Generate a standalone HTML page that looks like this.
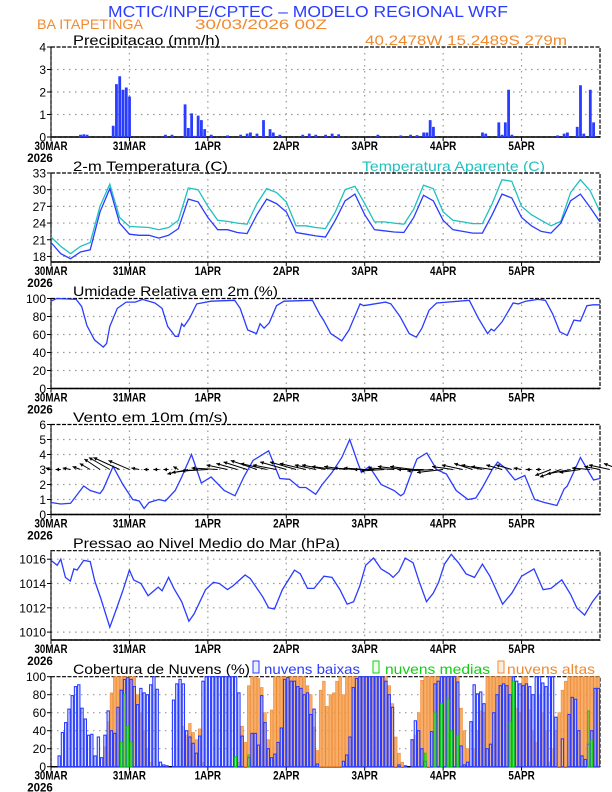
<!DOCTYPE html>
<html><head><meta charset="utf-8"><style>
html,body{margin:0;padding:0;background:#fff}
svg{display:block}
text{font-family:"Liberation Sans",sans-serif}
</style></head><body>
<svg id="chart" width="612" height="792" viewBox="0 0 612 792" xmlns="http://www.w3.org/2000/svg">
<text x="108" y="17" font-size="16" fill="#2a3cff" textLength="400" lengthAdjust="spacingAndGlyphs">MCTIC/INPE/CPTEC – MODELO REGIONAL WRF</text>
<text x="37" y="29" font-size="14" fill="#f08a30" textLength="106" lengthAdjust="spacingAndGlyphs">BA ITAPETINGA</text>
<text x="195" y="29" font-size="14" fill="#f08a30" textLength="132" lengthAdjust="spacingAndGlyphs">30/03/2026 00Z</text>
<text x="365" y="45" font-size="14" fill="#f08a30" textLength="202" lengthAdjust="spacingAndGlyphs">40.2478W  15.2489S  279m</text>
<text x="73" y="45" font-size="14" fill="#000" textLength="147" lengthAdjust="spacingAndGlyphs">Precipitacao (mm/h)</text>
<text x="73" y="171" font-size="14" fill="#000" textLength="155" lengthAdjust="spacingAndGlyphs">2-m Temperatura (C)</text>
<text x="362" y="171" font-size="14" fill="#20c0c0" textLength="183" lengthAdjust="spacingAndGlyphs">Temperatura Aparente (C)</text>
<text x="73" y="296" font-size="14" fill="#000" textLength="205" lengthAdjust="spacingAndGlyphs">Umidade Relativa em 2m (%)</text>
<text x="73" y="422" font-size="14" fill="#000" textLength="155" lengthAdjust="spacingAndGlyphs">Vento em 10m (m/s)</text>
<text x="73" y="548" font-size="14" fill="#000" textLength="267" lengthAdjust="spacingAndGlyphs">Pressao ao Nivel Medio do Mar (hPa)</text>
<text x="73" y="674" font-size="14" fill="#000" textLength="177" lengthAdjust="spacingAndGlyphs">Cobertura de Nuvens (%)</text>
<rect x="253" y="661" width="6" height="12" fill="#eef" stroke="#2a3cff"/>
<text x="264" y="674" font-size="14" fill="#2a3cff" textLength="96" lengthAdjust="spacingAndGlyphs">nuvens baixas</text>
<rect x="373" y="661" width="6" height="12" fill="#efe" stroke="#10d010"/>
<text x="385" y="674" font-size="14" fill="#10d010" textLength="105" lengthAdjust="spacingAndGlyphs">nuvens medias</text>
<rect x="498" y="661" width="6" height="12" fill="#fed" stroke="#f08a30"/>
<text x="507" y="674" font-size="14" fill="#f08a30" textLength="88" lengthAdjust="spacingAndGlyphs">nuvens altas</text>
<g id="layer"></g>
</svg>
<script>
const dayLabels=["30MAR","31MAR","1APR","2APR","3APR","4APR","5APR"];
const precipTicks=[0,1,2,3,4];
const tempTicks=[18,21,24,27,30,33];
const rhTicks=[0,20,40,60,80,100];
const windTicks=[0,1,2,3,4,5,6];
const presTicks=[1010,1012,1014,1016];
const cloudTicks=[0,20,40,60,80,100];

const precipHours=[9,10,11,19,20,21,22,23,24,35,37,41,42,43,44,45,46,47,49,54,58,60,61,63,65,67,68,70,77,79,81,84,86,88,100,107,110,112,114,115,116,117,132,133,137,138,139,140,141,155,157,158,161,162,163,165,166];
const precipValues=[0.1,0.12,0.1,0.5,2.35,2.7,2.1,2.2,1.8,0.1,0.1,1.45,0.4,1.05,0.05,0.95,0.75,0.35,0.1,0.07,0.1,0.15,0.2,0.15,0.75,0.35,0.2,0.1,0.1,0.15,0.1,0.1,0.15,0.12,0.1,0.07,0.1,0.08,0.2,0.2,0.75,0.45,0.2,0.15,0.65,0.1,0.65,2.1,0.1,0.07,0.15,0.2,0.45,2.3,0.15,2.1,0.65];

const temp2m=[20.5,18.5,17.6,18.8,19.2,26,30.2,24,22,21.8,21.8,21.3,21.8,23,28.3,27.8,25,22.8,22.8,22.3,22.1,25.5,28.3,27.5,26,22.3,22,21.7,21.5,24.5,28,29.2,25.5,22.8,22.6,22.4,22.3,25,29,28,24.5,22.8,22.5,22.2,22.2,25.5,29.2,28.5,25,23.5,22.5,22.2,24,28,29.2,26.8,24.2];
const tempApparent=[21.5,19.8,18.5,19.8,20.5,27,31,25,23.4,23.3,23.2,22.8,23.2,24.5,30.3,30,27,24.5,24.3,24,23.8,27.5,30.2,29.5,27.8,23.5,23.5,23.2,23,26,30,30.6,27.5,24.2,24.2,24,23.8,26.5,30.8,30.2,26,24.5,24.2,23.9,23.9,27.5,31.8,31.5,27,25.5,24.5,23.5,24.3,29.5,31.8,29.8,26];

const rhHours=[0,1.7,7.7,9.4,11,13.3,16,17,18,20.3,23,25.8,28,31.8,34,35.7,38,39,40,40.7,42.4,44.6,49,56.2,57.9,60.2,62.9,64,65.2,66.8,69,71.3,80,82.3,83.4,85.6,89,91.2,94.6,95.7,102.4,104,106.8,109.6,111.8,113.5,115.7,118,128,130.8,133.6,134.7,135.6,138,141.4,143,145.3,149,151.3,153.5,155.7,158,160,162,164,165.9,168];
const rhValues=[97,100,99,91,70,54,46,50,69,89,96,96,99,95,89,69,58,58,72,69,78,94,97,98,89,65,61,72,67,73,92,97,98,82,76,61,53,65,94,92,96,94,80,61,57,67,87,95,98,78,61,66,64,74,95,94,97,99,98,83,63,59,76,75,92,93,93];

const windHours=[0,3,6,10,12,15,16,19,22,25,27,28.5,30,33,35,38,40,43,46,49,53,56.3,59,61.8,66.6,70,73,76,78,81,83,86,89,91.4,93.8,95,97.4,101,105,107,108,110,112,115,118,121,124,127.6,130,132,135,136.7,139,142,145,148,151,154.8,157,158,162,166,168];
const windSpeed=[0.8,0.7,0.75,1.9,1.6,1.4,1.7,3.2,2,1,0.9,0.4,0.8,1,0.9,1.6,2.5,4,2.1,2.5,1.6,1.25,2.5,3.6,4.25,2.4,2.35,1.8,1.8,1.35,2,2.8,3.8,5,3.5,2.8,3.2,2,1.6,1.25,1.4,2.6,3.7,4.1,3,2.7,1.6,1,1.1,1.8,3,3.5,3.1,2.3,2.6,1,0.8,0.6,1.7,1.9,3.8,2.3,2.4];
const windU=[-1,-1,-1.5,-1.5,-2,-3,-4,-5,-4,-1.5,-1,-1,-1,-1,-4,-5,-5,-5,-4,-4,-4.5,-5,-5,-4.5,-5,-5,-5,-4,-4.5,-4.5,-4,-4,-4,-4,-4.5,-5,-5,-4.5,-5,-5,-5,-4,-4,-3.5,-4,-4,-3,-3,-1.5,-1,-1,-3,-4,-4.5,-4,-3.5,-3,-4,-3,-2];
const windV=[0.1,0,0.1,0.2,0.4,0.7,0.8,0.8,0.6,0.1,0,0,0,0.2,-0.3,-0.2,-0.1,0.1,0.3,0.4,0.5,0.6,0.4,0.3,0.5,0.5,0.4,0.3,0.3,0.2,0.2,0.1,0.1,0,-0.1,0.1,0.2,0.2,0,-0.1,-0.2,0.2,0.3,0.4,0.3,0.2,0.3,0.3,0.1,0,0,-0.4,-0.5,-0.3,-0.2,0.1,0.2,0.3,0.4,0.2];

const presHours=[0,1.9,3,4.4,5.9,7,8,10,12,13.4,15.2,18,20,22.1,24,25.3,27.5,29.7,32.8,34,36,37.6,40,42.2,43.8,47.3,49.7,51.5,54,55.7,59.4,61,64.8,66.6,68.4,70.8,74.5,76.3,78.5,80.5,83.5,86,88.4,90.6,92.6,94.5,96.3,98.7,101,103.5,104.7,106.5,108.4,110.8,112.6,114.9,117,118.6,120.4,122.5,124.7,127,129.6,132,134.3,136.5,138.2,141,144,147.8,150.6,153,156.3,159,160.9,163.3,165.7,168];
const presValues=[1015.9,1015.5,1016,1014.5,1014.2,1015.2,1015.1,1015.9,1015.8,1014.2,1012.8,1010.4,1011.9,1013.5,1015.1,1014.3,1014,1013,1013.7,1013.4,1014.5,1013.6,1012.5,1010.9,1011.5,1013.5,1014.1,1014,1013.5,1013.8,1014.7,1014.4,1012.9,1012,1011.9,1013.5,1015.1,1014.8,1013.6,1013.6,1014.6,1014.5,1013.5,1012.3,1012.5,1013.8,1015.5,1016.1,1015.2,1014.8,1014.5,1015,1016.1,1015.7,1014.2,1012.5,1013.2,1014.1,1015.6,1016.4,1015.7,1014.8,1014.5,1015.6,1014.6,1013.3,1012.3,1013.2,1014.6,1015.2,1013.5,1013.6,1014.3,1013.1,1012,1011.4,1012.5,1013.3];

const cloudLow=[0,0,12,38,49,64,79,89,91,65,53,35,36,12,33,10,35,62,40,37,66,85,97,99,
97,89,69,87,82,80,91,100,86,5,2,1,0,74,92,97,92,40,33,26,15,34,95,100,
100,100,100,100,100,100,100,100,100,82,34,0,10,37,37,24,79,49,20,10,14,27,43,97,
99,95,95,89,87,80,82,58,64,3,0,0,0,0,0,0,0,6,13,33,88,98,100,100,
100,100,100,100,100,100,95,80,66,0,2,0,1,0,30,51,40,20,6,0,39,92,95,100,
100,100,100,100,94,23,2,5,50,91,81,83,70,20,25,60,80,90,92,90,80,100,95,92,
90,92,89,80,100,100,93,89,100,100,55,0,31,0,58,77,75,40,12,8,25,40,87,87];
const cloudMid=[0,0,0,0,0,0,0,0,0,0,0,0,0,0,0,0,0,0,0,0,0,27,80,45,
27,0,0,0,0,0,0,0,0,0,0,0,0,0,0,0,0,0,0,0,0,0,0,0,
0,0,0,0,0,0,0,0,11,0,0,0,13,0,0,0,0,0,0,0,0,0,0,0,
0,0,0,0,0,0,0,0,0,0,0,0,0,0,0,0,0,0,0,0,0,0,0,0,
0,0,0,0,0,0,0,0,0,0,0,0,0,0,0,0,0,0,15,0,0,60,0,70,
0,75,40,0,35,0,0,0,0,0,0,0,0,0,0,0,0,0,0,0,50,95,0,0,
0,0,0,0,0,0,0,0,0,0,0,0,0,0,0,0,0,0,0,0,62,30,0,0];
const cloudHigh=[0,0,0,0,0,0,0,0,0,0,0,0,0,0,0,0,22,50,82,100,100,100,100,100,
100,100,80,60,40,20,5,0,0,0,0,0,0,0,0,0,45,35,48,38,30,42,5,0,
0,0,0,0,0,0,0,0,0,5,45,27,90,100,100,98,88,60,30,63,100,100,100,100,
100,100,100,100,100,100,90,80,44,18,85,95,67,80,82,95,100,80,100,100,100,100,100,100,
100,100,100,100,100,100,100,90,70,33,15,5,0,0,30,35,60,96,100,100,100,100,100,100,
100,100,100,100,100,65,40,20,0,20,40,62,60,100,100,100,100,100,100,100,100,100,65,60,
100,100,63,40,27,80,60,40,5,20,40,60,85,95,100,100,100,100,100,100,100,100,100,100];

const NS="http://www.w3.org/2000/svg";
const layer=document.getElementById('layer');
const X0=51,X1=600,HOURS=168;
function xs(h){return X0+(X1-X0)*h/HOURS;}
function mk(tag,attrs,parent){const e=document.createElementNS(NS,tag);for(const k in attrs)e.setAttribute(k,attrs[k]);(parent||layer).appendChild(e);return e;}
function yScale(top,bot,min,max){return v=>bot-(v-min)/(max-min)*(bot-top);}

function panel(name,top,bot,min,max,ticks,showYear){
  const y=yScale(top,bot,min,max);
  const g=mk('g',{});
  
  
  ticks.forEach(t=>{
    if(t>min&&t<max){const gl=mk('line',{x1:X0,x2:X1,y1:y(t),y2:y(t),stroke:'#999','stroke-dasharray':'1.5,4.5','stroke-width':1.2},g);
      }
    const tl=mk('text',{x:46,y:y(t)+4.5,'font-size':12,'text-anchor':'end',fill:'#000'},g);
    tl.textContent=t;
    
    
    mk('line',{x1:X0-4,x2:X0,y1:y(t),y2:y(t),stroke:'#000'},g);
  });
  dayLabels.forEach((d,i)=>{
    const x=xs(i*24);
    if(i>0){const vl=mk('line',{x1:x,x2:x,y1:top,y2:bot,stroke:'#999','stroke-dasharray':'1.5,4.5','stroke-width':1.2},g);
      }
    mk('line',{x1:x,x2:x,y1:bot,y2:bot+4,stroke:'#000'},g);
    const dl=mk('text',{x:x,y:bot+13,'font-size':11.5,'font-weight':'bold','text-anchor':'middle',fill:'#000',textLength:d.length*6.6,lengthAdjust:'spacingAndGlyphs'},g);
    dl.textContent=d;
    
    
  });
  if(showYear){const yl=mk('text',{x:X0-11,y:bot+25,'font-size':11.5,'font-weight':'bold','text-anchor':'middle',fill:'#000'},g);
    yl.textContent='2026';
    
    }
  const fr=mk('rect',{x:X0,y:top,width:X1-X0,height:bot-top,fill:'none',stroke:'#000','stroke-width':1.2,'stroke-dasharray':'4,1.5'});
  
  
  mk('line',{x1:X0,x2:X1,y1:bot,y2:bot,stroke:'#000','stroke-width':1.5});
  mk('line',{x1:X0,x2:X0,y1:top,y2:bot,stroke:'#000','stroke-width':1});
  return y;
}
function line(hours,vals,y,color,name){
  const pts=vals.map((v,i)=>xs(hours[i]).toFixed(1)+','+y(v).toFixed(1)).join(' ');
  const p=mk('polyline',{points:pts,fill:'none',stroke:color,'stroke-width':1.3});
  
  
}
const h3=temp2m.map((_,i)=>i*3);
const hw=windU.map((_,i)=>i*3);

const yP=panel('precip',47,137,0,4,precipTicks,true);
precipHours.forEach((h,i)=>{
  const b=mk('rect',{x:xs(h)-1.3,y:yP(precipValues[i]),width:2.8,height:yP(0)-yP(precipValues[i]),fill:'#2a3cff'});
  
  
});
const yT=panel('temp',173,262,17,33,tempTicks,true);
line(h3,tempApparent,yT,'#20c0c0','apparent-temp-line');
line(h3,temp2m,yT,'#2a3cff','temp-line');
const yR=panel('rh',298.5,388.5,0,100,rhTicks,true);
line(rhHours,rhValues,yR,'#2a3cff','rh-line');
const yW=panel('wind',424.5,514.5,0,6,windTicks,true);
line(windHours,windSpeed,yW,'#2a3cff','wind-speed-line');
const pxU=(X1-X0)/HOURS*1.6, pxV=15;
windU.forEach((u,i)=>{
  const x0=xs(hw[i]),y0=yW(3),x1=x0+u*pxU,y1=y0-windV[i]*pxV;
  const a=Math.atan2(y1-y0,x1-x0);
  const g=mk('g',{});
  
  
  mk('line',{x1:x0,y1:y0,x2:x1,y2:y1,stroke:'#000','stroke-width':1},g);
  const hx1=x1-4*Math.cos(a-0.5),hy1=y1-4*Math.sin(a-0.5),hx2=x1-4*Math.cos(a+0.5),hy2=y1-4*Math.sin(a+0.5);
  mk('polygon',{points:`${x1},${y1} ${hx1},${hy1} ${hx2},${hy2}`,fill:'#000'},g);
});
const yPr=panel('pressure',550.7,640,1009.35,1016.7,presTicks,true);
line(presHours,presValues,yPr,'#2a3cff','pressure-line');
const yC=panel('cloud',676.7,766.7,0,100,cloudTicks,true);
const bw=(X1-X0)/HOURS;
cloudHigh.forEach((v,h)=>{ if(v<=0)return;
  const b=mk('rect',{x:xs(h)+0.3,y:yC(v),width:bw-0.6,height:yC(0)-yC(v),fill:'#f5a050','fill-opacity':0.85,stroke:'#f08a30','stroke-width':0.6});
  
  
});
cloudLow.forEach((v,h)=>{ if(v<=0)return;
  const b=mk('rect',{x:xs(h)+0.5,y:yC(v),width:bw-1,height:yC(0)-yC(v),fill:'#c8d0ff','fill-opacity':0.35,stroke:'#2a3cff','stroke-width':1.1});
  
  
});
cloudMid.forEach((v,h)=>{ if(v<=0)return;
  const b=mk('rect',{x:xs(h)+0.8,y:yC(v),width:bw-1.6,height:yC(0)-yC(v),fill:'none',stroke:'#10d010','stroke-width':1.1});
  
  
});
</script>
</body></html>
